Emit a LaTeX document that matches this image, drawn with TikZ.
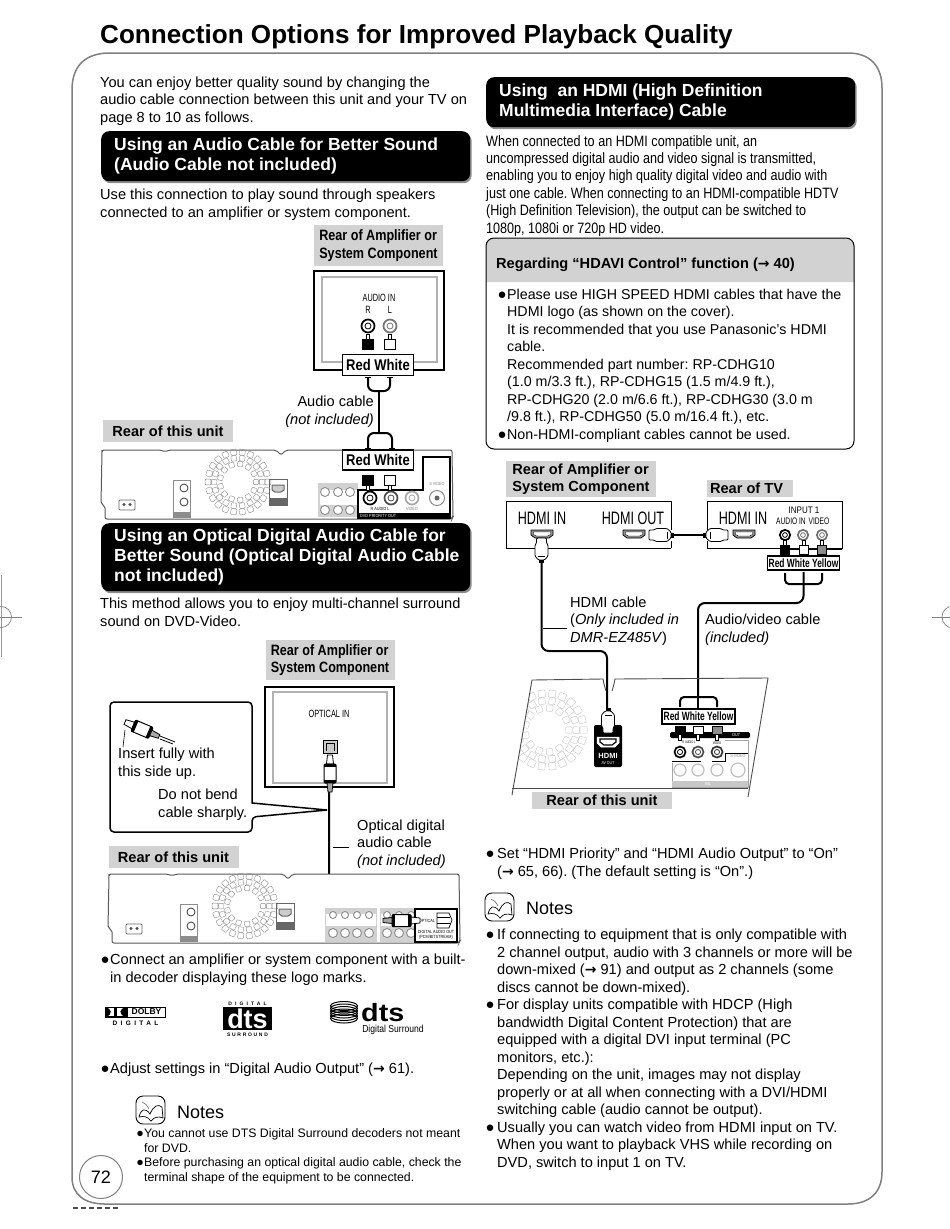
\documentclass[tikz,border=0pt]{standalone}
\usepackage{fontspec}
\setmainfont{Liberation Sans}
\newfontfamily\narrowfont[FakeStretch=0.84]{Liberation Sans}
\newfontfamily\thinfont[FakeStretch=0.7]{Liberation Sans}
\newfontfamily\arrowfont{DejaVu Sans}
\newfontfamily\widefont[FakeStretch=1.15]{Liberation Sans}
\usetikzlibrary{positioning, shadows, calc}
\newcommand{\bul}{\llap{\fontsize{15}{15}\selectfont●\hspace{0.6pt}}}
\newcommand{\widebul}{\llap{\fontsize{15}{15}\selectfont●\hspace{2.5pt}}}
\newcommand{\smallbul}{\llap{\fontsize{12.5}{12.5}\selectfont●\hspace{0.4pt}}}
\newcommand{\arr}{{\arrowfont\bfseries\fontsize{14}{14}\selectfont →}}
\AtBeginDocument{\frenchspacing}
\definecolor{labelgrey}{HTML}{D2D2D2}
\definecolor{framegrey}{HTML}{808080}
\tikzset{
    bodytext/.style={anchor=base west, inner sep=0pt, align=left, font=\fontsize{14.6}{17.5}\selectfont},
    boxtext/.style={bodytext, font=\fontsize{14.25}{17.5}\selectfont},
    smalltext/.style={anchor=base west, inner sep=0pt, align=left, font=\fontsize{12.3}{14.6}\selectfont},
    condtext/.style={anchor=base west, inner sep=0pt, align=left, font=\narrowfont\fontsize{15}{17.4}\selectfont},
    headbar/.style={anchor=north west, fill=black, text=white, rounded corners=8pt, inner xsep=13pt, inner ysep=0pt,
        align=flush left, text width=343pt, font=\bfseries\fontsize{17.5}{20}\selectfont,
        drop shadow={shadow xshift=1.5pt, shadow yshift=-2pt, fill=black, opacity=.45}},
    greytag/.style={fill=labelgrey, inner sep=0pt, align=left, font=\narrowfont\bfseries\fontsize{15}{17.5}\selectfont},
    wordtag/.style={greytag, font=\bfseries\fontsize{14.6}{17.5}\selectfont},
    colourbox/.style={draw=black, line width=1.5pt, fill=white, inner sep=0pt, font=\narrowfont\bfseries\fontsize{15.5}{16}\selectfont},
    tinybox/.style={colourbox, line width=1.2pt, font=\thinfont\bfseries\fontsize{12}{12}\selectfont},
    portword/.style={inner sep=0pt, font=\thinfont\fontsize{18}{20}\selectfont},
    smallport/.style={inner sep=0pt, font=\thinfont\fontsize{10.5}{11}\selectfont},
    panelbox/.style={draw=black, line width=1.4pt, fill=white},
    panelinner/.style={draw=black!30, line width=1.2pt},
    cable/.style={draw=black, line width=2pt, rounded corners=6pt},
    leader/.style={draw=black, line width=.8pt},
    unitline/.style={draw=black!65, line width=1pt},
    fadeline/.style={draw=black!35, line width=.7pt},
    tinyword/.style={inner sep=0pt, font=\narrowfont\fontsize{4.5}{5}\selectfont},
    pics/rcajack/.style={code={
        \draw[#1, line width=1.7pt, fill=white] (0,0) circle (6.5);
        \draw[#1, line width=.8pt] (0,0) circle (3);
    }},
    pics/rcaplugup/.style={code={
        \draw[black, fill=white, line width=.6pt] (-1.6,-5) rectangle (1.6,1);
        \draw[black, fill=#1, line width=.8pt] (-5.2,0) rectangle (5.2,10.5);
    }},
    pics/rcaplugdown/.style={code={
        \draw[black, fill=white, line width=.6pt] (-1.6,9) rectangle (1.6,15);
        \draw[black, fill=#1, line width=.8pt] (-5.2,0) rectangle (5.2,10);
    }},
    pics/hdmisock/.style={code={
        \draw[black, fill=black!45, line width=.7pt] (-11,-4) -- (11,-4) -- (11,1) -- (7,4) -- (-7,4) -- (-11,1) -- cycle;
        \draw[black, fill=white, line width=.4pt] (-8.5,-2) -- (8.5,-2) -- (8.5,.5) -- (5.5,2) -- (-5.5,2) -- (-8.5,.5) -- cycle;
    }},
    pics/hdmiplug/.style={code={
        \draw[black, fill=white, line width=.8pt, rounded corners=1pt] (-5,0) -- (5,0) -- (5,5) -- (6.5,7) -- (6.5,18) -- (3,22) -- (-3,22) -- (-6.5,18) -- (-6.5,7) -- (-5,5) -- cycle;
        \fill[black] (-2.5,22) rectangle (2.5,25);
        \draw[black, line width=.6pt] (-3.5,18) -- (3.5,18);
    }},
    pics/optiplug/.style={code={
        \draw[black, fill=white, line width=.8pt] (-2.5,0) -- (2.5,0) -- (3.5,9) -- (-3.5,9) -- cycle;
        \draw[black, fill=white, line width=1pt, rounded corners=1pt] (-6,9) rectangle (6,28);
        \fill[black] (-6,9) rectangle (6,12);
        \fill[black] (-6,25) rectangle (6,28);
        \draw[black, fill=black!35, line width=.8pt] (-3,28) -- (3,28) -- (2,37) -- (-2,37) -- cycle;
    }},
    pics/fanring/.style={code={
        \foreach \r/\n/\s in {18/13/2.6, 24/18/2.7, 30/22/2.9} {
            \pgfmathsetmacro{\st}{360/\n}
            \foreach \i in {1,...,\n} {
                \draw[#1, rounded corners=.8pt, rotate=\i*\st, shift={(\r,0)}] (-\s,-\s) rectangle (\s,\s);
            }
        }
    }},
    pics/notesicon/.style={code={
        \draw[black, line width=.9pt, rounded corners=7pt, fill=white] (0,0) rectangle (29,28);
        \draw[black, line width=.7pt, fill=white] (3,21) .. controls (5,13) and (9,11) .. (14,18) .. controls (18,9) and (22,8) .. (26,11) -- (27,22) .. controls (22,20) and (18,21) .. (15,25) .. controls (11,20) and (8,20) .. (3,21) -- cycle;
        \draw[black!60, line width=.6pt] (6,6) .. controls (9,7) and (11,9) .. (13,13);
    }},
    pics/rearunit/.style={code={
        \draw[unitline, rounded corners=2pt, fill=white] (1,3) -- (1,1) -- (60,1) -- (64,3) -- (68,1) -- (175,1) -- (180,6) -- (185,1) -- (351,1) -- (352,68) -- (351,70) -- (4,70) -- (4,57) -- (0,55) -- cycle;
        \pic at (137,33) {fanring=black!45};
        \draw[black!60, line width=.8pt, rounded corners=1pt] (18,51) rectangle (34,61);
        \foreach \x in {23,29} { \fill[black!70] (\x,55.5) circle (1.6); }
        \draw[black!45, line width=.7pt] (72,31) rectangle (89,68);
        \fill[black!45] (72,63) rectangle (89,68);
        \foreach \y in {39,53} { \draw[black!70, line width=.9pt] (83,\y) circle (4); }
        \draw[black!60, line width=.8pt] (168,30) rectangle (186,56);
        \draw[black!60, line width=1pt, fill=black!20] (171,36) -- (183,36) -- (183,41) -- (180,43) -- (174,43) -- (171,41) -- cycle;
        \fill[black!60] (168,49) rectangle (186,56);
    }}
}

\begin{document}
\begin{tikzpicture}[x=1pt, y=-1pt]
    \useasboundingbox (0,0) rectangle (950,1229);
    \fill[white] (0,0) rectangle (950,1229);

    % page furniture
    \node[bodytext, font=\bfseries\fontsize{26.1}{30}\selectfont] (pagetitle) at (100,43) {Connection Options for Improved Playback Quality};
    \draw[framegrey, line width=1.5pt] (72,90) .. controls (72,66) and (85,53) .. (110,53) -- (848,53) .. controls (870,53) and (882,66) .. (882,88) -- (882,1172) .. controls (882,1192) and (870,1204) .. (848,1204) -- (105,1204) .. controls (85,1204) and (72,1195) .. (72,1177) -- cycle;
    \draw[framegrey, line width=1pt, fill=white] (101,1177) circle (21.5);
    \node[font=\fontsize{18}{18}\selectfont] (pagenum) at (101,1177) {72};
    \draw[black!70, line width=1.2pt, dash pattern=on 5pt off 3pt] (73,1208) -- (120,1208);
    \draw[black!40, line width=1pt] (1,575) -- (1,657);
    \draw[black!50, line width=.7pt] (1,617) circle (10.5);
    \draw[black!50, line width=.7pt] (0,617) -- (22,617);
    \draw[black!50, line width=.7pt] (953,617) circle (11);
    \draw[black!50, line width=.7pt] (932,617) -- (950,617);

    % left column, audio cable
    \node[bodytext] (introtext) at (100,122) {You can enjoy better quality sound by changing the\\audio cable connection between this unit and your TV on\\page 8 to 10 as follows.};
    \node[headbar, minimum height=50pt] (audiohead) at (101,131) {Using an Audio Cable for Better Sound\\(Audio Cable not included)};
    \node[bodytext] (audiotext) at (100,217) {Use this connection to play sound through speakers\\connected to an amplifier or system component.};

    \node[greytag, minimum width=129pt, minimum height=41pt] (ampTag) at (378.5,245.5) {Rear of Amplifier or\\System Component};
    \draw[panelbox] (314,271) rectangle (444,370);
    \draw[panelinner] (322,277) rectangle (437,362);
    \node[smallport] (audioinA) at (379,298) {AUDIO IN};
    \node[smallport] (rightA) at (368,310) {R};
    \node[smallport] (leftA) at (390,310) {L};
    \pic at (368,326) {rcajack=black};
    \pic at (390,326) {rcajack=black!55};
    \pic at (368,339) {rcaplugup=black};
    \pic at (390,339) {rcaplugup=white};
    \node[colourbox, minimum width=71pt, minimum height=21pt] (rwA) at (378,365) {Red White};

    \coordinate (forkA) at (379,392);
    \coordinate (forkB) at (379,432);
    \draw[cable] (368,377) -- (368,391) -- (390,391) -- (390,377);
    \draw[cable] (368,449) -- (368,433) -- (392,433) -- (392,449);
    \draw[cable] (forkA) -- (forkB);
    \draw[line width=.9pt] (365,377) -- (371,377) (387,377) -- (393,377) (365,448) -- (371,448) (389,448) -- (395,448);
    \node[bodytext, anchor=base east, align=right] (audiocable) at (374,424) {Audio cable\\\textit{(not included)}};
    \node[wordtag, minimum width=130pt, minimum height=22pt, align=center] (unitTagA) at (168,431) {Rear of this unit};

    \pic at (101,449) {rearunit};
    \fill[black!18] (318,483) rectangle (358,517);
    \fill[white] (320,490) rectangle (358,505);
    \foreach \x in {325,338,350} {
        \foreach \y in {492,510} { \draw[black!45, fill=white, line width=.9pt] (\x,\y) circle (4.5); }
    }
    \draw[black, line width=1.5pt, fill=white] (358,490) -- (423,490) -- (423,457) -- (450,457) -- (450,518) -- (358,518) -- cycle;
    \fill[black] (358,513) rectangle (450,519);
    \node[tinyword, text=white, anchor=west] (dvdout) at (360,516) {DVD PRIORITY OUT};
    \pic at (370,498) {rcajack=black};
    \pic at (391,498) {rcajack=black!70};
    \pic at (412,498) {rcajack=black!35};
    \draw[black!45, line width=1pt, fill=white] (437,498) circle (7.5);
    \fill[black!60] (437,498) circle (2.5);
    \node[tinyword] (avlabel) at (380,509) {R AUDIO L};
    \node[tinyword, text=black!50] (vlabel) at (412,509) {VIDEO};
    \node[tinyword, text=black!50] (svlabel) at (437,484) {S VIDEO};
    \pic at (368,475) {rcaplugdown=black};
    \pic at (390,475) {rcaplugdown=white};
    \node[colourbox, minimum width=71pt, minimum height=20pt] (rwB) at (378,460) {Red White};

    % left column, optical cable
    \node[headbar, minimum height=68pt] (opticalhead) at (101,523) {Using an Optical Digital Audio Cable for\\\mbox{Better Sound (Optical Digital Audio Cable}\\not included)};
    \node[bodytext] (opticaltext) at (100,626) {This method allows you to enjoy multi-channel surround\\sound on DVD-Video.};
    \node[greytag, minimum width=129pt, minimum height=40pt] (ampTagB) at (330,660) {Rear of Amplifier or\\System Component};
    \draw[panelbox] (265,687) rectangle (394,787);
    \draw[panelinner] (273,692) rectangle (387,783);
    \node[smallport] (opticalin) at (329,714) {OPTICAL IN};
    \draw[black, fill=black!20, line width=.8pt] (323,740) rectangle (337,753);
    \draw[black, line width=.8pt] (326,751) -- (326,743) -- (334,743) -- (334,751);

    \coordinate (callouttip) at (327,810);
    \draw[black, line width=1.5pt, fill=white, rounded corners=4pt] (252,803) -- (252,702) -- (110,702) -- (110,832) -- (252,832) -- (252,817) [sharp corners] -- (callouttip) -- cycle;
    \pic[rotate=67] at (125,722) {optiplug};
    \draw[black, line width=.8pt] (160,736) -- (175,742) (160,739) -- (173,744);
    \draw[black, line width=.6pt] (125,730) -- (123,747);
    \node[bodytext] (inserttext) at (118,776) {Insert fully with\\this side up.};
    \node[bodytext] (bendtext) at (158,817) {Do not bend\\cable sharply.};

    \coordinate (opticalA) at (329,792);
    \coordinate (opticalB) at (382,920.5);
    \draw[cable] (opticalA) |- (opticalB);
    \pic at (330,755) {optiplug};
    \draw[leader] (333,847) -- (349,847);
    \node[bodytext] (opticalcable) at (357,865) {Optical digital\\audio cable\\\textit{(not included)}};
    \node[wordtag, minimum width=130pt, minimum height=22pt, align=center] (unitTagB) at (173.5,857) {Rear of this unit};

    \pic at (108,873) {rearunit};
    \foreach \xa/\xb in {325/377, 380/417} {
        \fill[black!18] (\xa,908) rectangle (\xb,942);
        \fill[white] (\xa+1,914) rectangle (\xb-1,926);
    }
    \foreach \x in {333,345,357,369,387,399,411} {
        \draw[black!45, fill=white, line width=.9pt] (\x,933) circle (4.5);
        \draw[black!45, fill=white, line width=.9pt] (\x,915) circle (3.5);
    }
    \draw[black, line width=1.2pt, fill=white] (415,909) rectangle (457,942);
    \node[tinyword] (opticalword) at (427,921) {OPTICAL};
    \node[tinyword, align=center] (digitalout) at (436,935) {DIGITAL AUDIO OUT\\(PCM/BITSTREAM)};
    \draw[black, line width=.7pt, fill=white] (437,913) -- (449,913) -- (452,920) -- (449,928) -- (437,928) -- cycle;
    \draw[black, line width=.5pt] (437,917) -- (450,917) (437,923) -- (450,923);
    \pic[rotate=-90] at (420,920.5) {optiplug};

    \node[bodytext] (connecttext) at (110,982) {\bul Connect an amplifier or system component with a built-\\in decoder displaying these logo marks.};

    % logos
    \draw[black, line width=1.2pt] (105.5,1007.5) rectangle (115,1017) (116.5,1007.5) rectangle (126,1017);
    \fill[black] (105.5,1007.5) .. controls (112,1008) and (113,1015) .. (105.5,1017) -- cycle;
    \fill[black] (126,1007.5) .. controls (119,1008) and (118,1015) .. (126,1017) -- cycle;
    \node[draw=black, line width=1pt, inner sep=0pt, minimum width=38pt, minimum height=10pt, font=\bfseries\fontsize{8.5}{9}\selectfont] (dolbyword) at (146.5,1012) {DOLBY};
    \node[inner sep=0pt, font=\bfseries\addfontfeature{LetterSpace=52}\fontsize{6.5}{7}\selectfont] (dolbydigital) at (135.5,1023) {DIGITAL};
    \node[inner sep=0pt, font=\bfseries\addfontfeature{LetterSpace=62}\fontsize{5}{6}\selectfont] (dtsdigital) at (247.5,1004) {DIGITAL};
    \node[fill=black, text=white, inner sep=0pt, minimum width=49pt, minimum height=23pt, font=\bfseries\fontsize{27}{20}\selectfont] (dtsblock) at (247.5,1018.5) {dts};
    \node[inner sep=0pt, font=\bfseries\addfontfeature{LetterSpace=34}\fontsize{5}{6}\selectfont] (dtssurround) at (247.5,1034.5) {SURROUND};
    \foreach \y in {1006,1008.5,...,1019} {
        \draw[black, line width=1pt] (344,\y) ellipse (13.5 and 4.5);
    }
    \node[anchor=base west, inner sep=0pt, font=\widefont\bfseries\fontsize{25}{25}\selectfont] (dtsword) at (361,1021) {dts};
    \node[anchor=base, inner sep=0pt, font=\narrowfont\fontsize{10.2}{12}\selectfont] (dtsname) at (393,1032) {Digital Surround};

    \node[bodytext] (adjusttext) at (110,1073) {\bul Adjust settings in “Digital Audio Output” (\arr\ 61).};

    \pic at (136,1096) {notesicon};
    \node[bodytext, font=\fontsize{18}{20}\selectfont] (notesA) at (177,1118) {Notes};
    \node[smalltext] (notesAtext) at (144,1181.5) {\smallbul You cannot use DTS Digital Surround decoders not meant\\for DVD.\\\smallbul Before purchasing an optical digital audio cable, check the\\terminal shape of the equipment to be connected.};

    % right column, hdmi cable
    \node[headbar, minimum height=50pt] (hdmihead) at (486,77) {Using\ \ an HDMI (High Definition\\Multimedia Interface) Cable};
    \node[condtext] (hdmitext) at (486,233) {When connected to an HDMI compatible unit, an\\uncompressed digital audio and video signal is transmitted,\\enabling you to enjoy high quality digital video and audio with\\just one cable. When connecting to an HDMI-compatible HDTV\\(High Definition Television), the output can be switched to\\1080p, 1080i or 720p HD video.};
    \draw[black, line width=1pt, fill=labelgrey, rounded corners=8pt] (486,282) -- (486,238) -- (854,238) -- (854,282);
    \draw[black, line width=1pt, rounded corners=8pt] (486,282) -- (486,449) -- (854,449) -- (854,282);
    \node[bodytext, font=\bfseries\fontsize{14.6}{17.5}\selectfont] (hdavihead) at (496,268) {Regarding “HDAVI Control” function (\arr\ 40)};
    \node[boxtext] (hdavitext) at (507,439) {\bul Please use HIGH SPEED HDMI cables that have the\\HDMI logo (as shown on the cover).\\It is recommended that you use Panasonic’s HDMI\\cable.\\Recommended part number: RP-CDHG10\\(1.0 m/3.3 ft.), RP-CDHG15 (1.5 m/4.9 ft.),\\RP-CDHG20 (2.0 m/6.6 ft.), RP-CDHG30 (3.0 m\\/9.8 ft.), RP-CDHG50 (5.0 m/16.4 ft.), etc.\\\bul Non-HDMI-compliant cables cannot be used.};

    \node[wordtag, minimum width=150pt, minimum height=36pt] (ampTagC) at (581,479) {Rear of Amplifier or\hspace{8pt}\\System Component};
    \node[wordtag, minimum width=86pt, minimum height=17pt] (tvTag) at (750,488.5) {Rear of TV\hspace{7pt}};
    \draw[black, line width=.9pt] (671,501) -- (506,501) -- (506,548) -- (671,548) (671,501) -- (671,530) (671,541) -- (671,548);
    \draw[black, line width=.9pt] (707,530) -- (707,501) -- (842,501) -- (842,548) -- (707,548) -- (707,541);
    \node[portword] (hdmiinA) at (542,518) {HDMI IN};
    \node[portword] (hdmiout) at (633,518) {HDMI OUT};
    \node[portword] (hdmiinB) at (743,518) {HDMI IN};
    \node[smallport, font=\narrowfont\fontsize{9.5}{11}\selectfont] (input1) at (804,510) {INPUT 1};
    \node[smallport, font=\thinfont\fontsize{9.5}{10}\selectfont] (audioinB) at (791,521) {AUDIO IN};
    \node[smallport, font=\thinfont\fontsize{9.5}{10}\selectfont] (videoB) at (819,521) {VIDEO};
    \pic at (542,534) {hdmisock};
    \pic at (634,534) {hdmisock};
    \pic at (744,534) {hdmisock};
    \pic[rotate=90] at (649,535) {hdmiplug};
    \pic[rotate=-90] at (728,535) {hdmiplug};
    \pic at (541.5,538) {hdmiplug};
    \draw[line width=2pt] (674,535) -- (703,535);
    \foreach \x/\c in {785/black, 803/black!55, 822/black!55} {
        \pic[scale=.8] at (\x,535) {rcajack=\c};
    }
    \foreach \x/\c in {785/black, 803.5/white, 822/black!45} {
        \pic[scale=.85] at (\x,545) {rcaplugup=\c};
    }
    \draw[black, line width=.9pt] (790,549) -- (799,549) (808,549) -- (817,549) (827,549) -- (842,549);
    \node[tinybox, minimum width=72pt, minimum height=14pt] (rwyA) at (803.5,563) {Red White Yellow};

    \coordinate (rwyfork) at (803,584);
    \coordinate (avcorner) at (698,698);
    \draw[cable, rounded corners=4pt] (785,573) -- (785,584) -- (822,584) -- (822,573);
    \draw[cable, rounded corners=7pt] (803.5,572) -- (803.5,603) -- (698,603) -- (avcorner);
    \draw[cable, rounded corners=4pt] (680,707) -- (680,697) -- (717,697) -- (717,707);
    \draw[cable, rounded corners=0pt] (avcorner) -- (698,708);

    \coordinate (hdmitop) at (541.5,563);
    \coordinate (hdmibot) at (607,708);
    \draw[cable, rounded corners=7pt] (hdmitop) -- (541.5,651) -- (607,651) -- (hdmibot);
    \draw[leader] (543,628) -- (567,628);
    \node[bodytext] (hdmicable) at (570,642) {HDMI cable\\(\textit{Only included in}\\\textit{DMR-EZ485V})};
    \node[bodytext] (avcable) at (705,642) {Audio/video cable\\\textit{(included)}};

    \begin{scope}
        \clip (532,680) -- (768,678) -- (748,797) -- (512,797) -- cycle;
        \pic[scale=1.22] at (547,730) {fanring=black!22};
    \end{scope}
    \draw[black!70, line width=.9pt] (512,795) -- (532,680) -- (603,679) -- (604,684) -- (606,691) (612,691) -- (614,684) -- (615,679) -- (768,678) -- (748,797);
    \draw[black!70, line width=.9pt] (512,788) -- (748,788);
    \fill[white] (528,792) rectangle (676,810);
    \fill[black, rounded corners=2pt] (594,725) rectangle (622,767);
    \draw[white, line width=.5pt, fill=white] (597,737) -- (619,737) -- (619,743) -- (615,747) -- (601,747) -- (597,743) -- cycle;
    \draw[black, line width=1.2pt] (600,739) -- (616,739) -- (616,742) -- (612,745) -- (604,745) -- (600,742) -- cycle;
    \node[inner sep=0pt, text=white, font=\bfseries\fontsize{7.5}{8}\selectfont] (hdmilogo) at (608,755.5) {HDMI};
    \node[inner sep=0pt, text=white, font=\narrowfont\fontsize{4.2}{5}\selectfont] (avout) at (608,763) {AV OUT};
    \pic[rotate=180] at (608,733) {hdmiplug};

    \node[wordtag, minimum width=140pt, minimum height=17pt, align=center] (unitTagC) at (602,800.5) {Rear of this unit};
    \node[tinybox, minimum width=73pt, minimum height=15pt] (rwyB) at (698.5,716.5) {Red White Yellow};
    \fill[black, rounded corners=1.5pt] (670,732) rectangle (750,738);
    \foreach \x/\c in {680/black, 698/white, 717/black!45} {
        \draw[black, fill=white, line width=.5pt] (\x-1.5,730) rectangle (\x+1.5,740);
        \draw[black, fill=\c, line width=.7pt] (\x-5,726) rectangle (\x+5,734);
    }
    \node[tinyword, text=white, anchor=west] (dvdC) at (732,735) {OUT};
    \node[tinyword, font=\thinfont\fontsize{3.8}{4}\selectfont] (audioC) at (689,742.5) {R AUDIO L};
    \node[tinyword, font=\thinfont\fontsize{3.8}{4}\selectfont] (videoC) at (717,743) {VIDEO};
    \pic[scale=.85] at (680,752) {rcajack=black};
    \pic[scale=.85] at (698,752) {rcajack=black!70};
    \pic[scale=.85] at (717,752) {rcajack=black!80};
    \draw[black, line width=.7pt] (672,761) -- (701,761) (712,761) -- (725,761) -- (725,753) -- (748,753);
    \draw[fadeline] (725,740) -- (748,740) -- (748,787) -- (672,787) -- (672,763);
    \fill[black!22] (672,781) rectangle (748,787);
    \foreach \x in {680,698,717} { \draw[black!25, line width=1.2pt] (\x,770) circle (6); }
    \draw[black!25, line width=1.2pt] (738,770) circle (7);
    \node[tinyword, text=black!45] (svideoC) at (738,756) {S VIDEO};
    \node[tinyword, text=white] (in1C) at (708,784) {IN1};

    % right column, after the figure
    \node[bodytext] (settext) at (497,876) {\widebul Set “HDMI Priority” and “HDMI Audio Output” to “On”\\(\arr\ 65, 66). (The default setting is “On”.)};
    \pic at (485,893) {notesicon};
    \node[bodytext, font=\fontsize{18}{20}\selectfont] (notesB) at (526,914) {Notes};
    \node[bodytext] (notesBtext) at (497,1167) {\widebul If connecting to equipment that is only compatible with\\2 channel output, audio with 3 channels or more will be\\down-mixed (\arr\ 91) and output as 2 channels (some\\discs cannot be down-mixed).\\\widebul For display units compatible with HDCP (High\\bandwidth Digital Content Protection) that are\\equipped with a digital DVI input terminal (PC\\monitors, etc.):\\Depending on the unit, images may not display\\properly or at all when connecting with a DVI/HDMI\\switching cable (audio cannot be output).\\\widebul Usually you can watch video from HDMI input on TV.\\When you want to playback VHS while recording on\\DVD, switch to input 1 on TV.};
\end{tikzpicture}
\end{document}
